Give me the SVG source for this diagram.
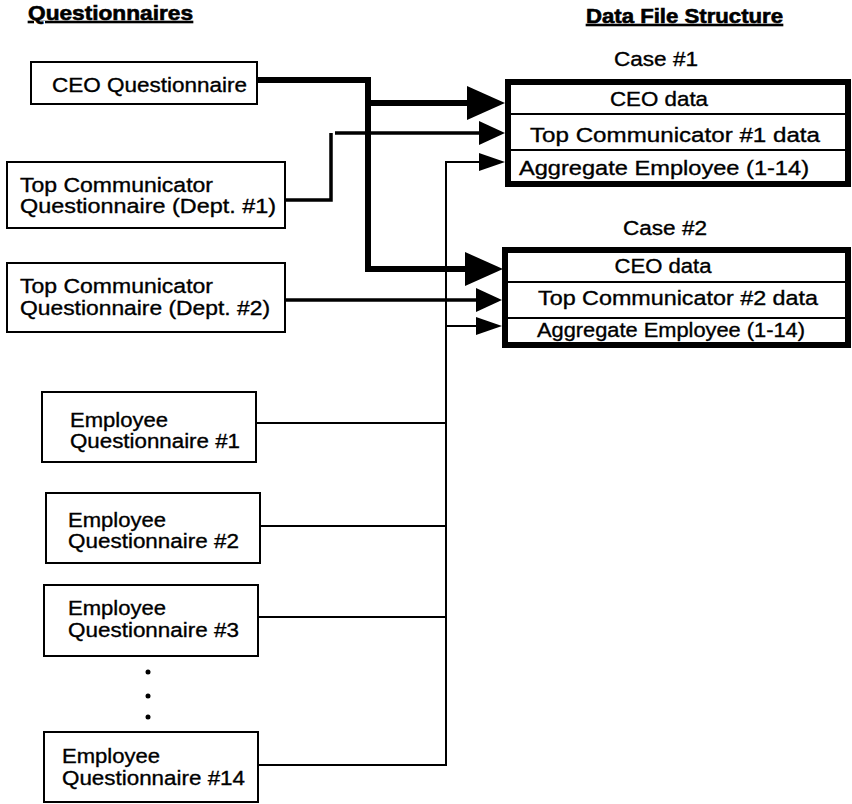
<svg xmlns="http://www.w3.org/2000/svg" width="852" height="804" viewBox="0 0 852 804">
  <style>
    text { font-family: "Liberation Sans", Arial, Helvetica, sans-serif; font-size: 20.5px; fill: #000; stroke: #000; stroke-width: 0.35px; }
    .hdr { font-weight: bold; font-size: 20px; text-decoration: underline; stroke-width: 0.6px; }
    .ctr { text-anchor: middle; }
    .box { fill: #fff; stroke: #000; stroke-width: 2; }
    .case { fill: #fff; stroke: #000; stroke-width: 6; }
    .sep { stroke: #000; stroke-width: 2; }
    .thick { fill: none; stroke: #000; stroke-width: 6; }
    .mid { fill: none; stroke: #000; stroke-width: 3.5; }
    .thin { fill: none; stroke: #000; stroke-width: 2; }
  </style>
  <defs>
    <marker id="ah-big" markerUnits="userSpaceOnUse" markerWidth="40" markerHeight="36" refX="4" refY="17" orient="auto">
      <path d="M0,0 L38,17 L0,34 Z" fill="#000"/>
    </marker>
    <marker id="ah-mid" markerUnits="userSpaceOnUse" markerWidth="28" markerHeight="26" refX="3" refY="12" orient="auto">
      <path d="M0,0 L26,12 L0,24 Z" fill="#000"/>
    </marker>
    <marker id="ah-small" markerUnits="userSpaceOnUse" markerWidth="28" markerHeight="20" refX="3" refY="9" orient="auto">
      <path d="M0,0 L26,9 L0,18 Z" fill="#000"/>
    </marker>
  </defs>
  <rect width="852" height="804" fill="#fff"/>

  <!-- column headings -->
  <text class="hdr" x="28" y="20" textLength="165" lengthAdjust="spacingAndGlyphs">Questionnaires</text>
  <text class="hdr" x="586" y="23" textLength="197" lengthAdjust="spacingAndGlyphs">Data File Structure</text>

  <!-- connectors -->
  <g id="connectors">
    <!-- CEO questionnaire feeds both cases -->
    <polyline class="thick" points="257,80 368,80 368,269 469,269" marker-end="url(#ah-big)"/>
    <line class="thick" x1="368" y1="103" x2="471" y2="103" marker-end="url(#ah-big)"/>
    <!-- top communicator dept 1 -->
    <polyline class="mid" points="285,200 331,200 331,133"/>
    <line class="mid" x1="335" y1="133" x2="482" y2="133" marker-end="url(#ah-mid)"/>
    <!-- top communicator dept 2 -->
    <line class="mid" x1="285" y1="300" x2="479" y2="300" marker-end="url(#ah-mid)"/>
    <!-- employee bus -->
    <line class="thin" x1="446" y1="162" x2="446" y2="765"/>
    <line class="thin" x1="445" y1="162" x2="482" y2="162" marker-end="url(#ah-small)"/>
    <line class="thin" x1="445" y1="326" x2="479" y2="326" marker-end="url(#ah-small)"/>
    <line class="thin" x1="256" y1="423" x2="446" y2="423"/>
    <line class="thin" x1="260" y1="526" x2="446" y2="526"/>
    <line class="thin" x1="258" y1="617" x2="446" y2="617"/>
    <line class="thin" x1="258" y1="765" x2="447" y2="765"/>
  </g>

  <!-- questionnaires -->
  <g id="ceo-q">
    <rect class="box" x="31" y="62" width="226" height="42"/>
    <text x="52" y="92" textLength="195" lengthAdjust="spacingAndGlyphs">CEO Questionnaire</text>
  </g>
  <g id="tc1-q">
    <rect class="box" x="7" y="162" width="278" height="66"/>
    <text x="20" y="192" textLength="193" lengthAdjust="spacingAndGlyphs">Top Communicator</text>
    <text x="20" y="213" textLength="256" lengthAdjust="spacingAndGlyphs">Questionnaire (Dept. #1)</text>
  </g>
  <g id="tc2-q">
    <rect class="box" x="7" y="263" width="278" height="69"/>
    <text x="20" y="293" textLength="193" lengthAdjust="spacingAndGlyphs">Top Communicator</text>
    <text x="20" y="315" textLength="250" lengthAdjust="spacingAndGlyphs">Questionnaire (Dept. #2)</text>
  </g>
  <g id="emp1-q">
    <rect class="box" x="42" y="392" width="214" height="70"/>
    <text x="70" y="427" textLength="98" lengthAdjust="spacingAndGlyphs">Employee</text>
    <text x="70" y="448" textLength="170" lengthAdjust="spacingAndGlyphs">Questionnaire #1</text>
  </g>
  <g id="emp2-q">
    <rect class="box" x="46" y="493" width="214" height="70"/>
    <text x="68" y="527" textLength="98" lengthAdjust="spacingAndGlyphs">Employee</text>
    <text x="68" y="548" textLength="171" lengthAdjust="spacingAndGlyphs">Questionnaire #2</text>
  </g>
  <g id="emp3-q">
    <rect class="box" x="44" y="585" width="214" height="71"/>
    <text x="68" y="615" textLength="98" lengthAdjust="spacingAndGlyphs">Employee</text>
    <text x="68" y="637" textLength="171" lengthAdjust="spacingAndGlyphs">Questionnaire #3</text>
  </g>
  <g id="ellipsis">
    <circle cx="148" cy="672" r="2.5"/>
    <circle cx="148" cy="696" r="2.5"/>
    <circle cx="148" cy="717" r="2.5"/>
  </g>
  <g id="emp14-q">
    <rect class="box" x="44" y="732" width="214" height="70"/>
    <text x="62" y="763" textLength="98" lengthAdjust="spacingAndGlyphs">Employee</text>
    <text x="62" y="785" textLength="183" lengthAdjust="spacingAndGlyphs">Questionnaire #14</text>
  </g>

  <!-- data file cases -->
  <g id="case1">
    <text class="ctr" x="656" y="66" textLength="84" lengthAdjust="spacingAndGlyphs">Case #1</text>
    <rect class="case" x="508" y="82" width="340" height="102"/>
    <line class="sep" x1="511" y1="114" x2="845" y2="114"/>
    <line class="sep" x1="511" y1="150" x2="845" y2="150"/>
    <text class="ctr" x="659" y="106" textLength="98" lengthAdjust="spacingAndGlyphs">CEO data</text>
    <text class="ctr" x="675" y="142" textLength="290" lengthAdjust="spacingAndGlyphs">Top Communicator #1 data</text>
    <text class="ctr" x="664" y="175" textLength="290" lengthAdjust="spacingAndGlyphs">Aggregate Employee (1-14)</text>
  </g>
  <g id="case2">
    <text class="ctr" x="665" y="235" textLength="84" lengthAdjust="spacingAndGlyphs">Case #2</text>
    <rect class="case" x="505" y="250" width="343" height="95"/>
    <line class="sep" x1="508" y1="282" x2="845" y2="282"/>
    <line class="sep" x1="508" y1="318" x2="845" y2="318"/>
    <text class="ctr" x="663" y="273" textLength="97" lengthAdjust="spacingAndGlyphs">CEO data</text>
    <text class="ctr" x="678" y="305" textLength="280" lengthAdjust="spacingAndGlyphs">Top Communicator #2 data</text>
    <text class="ctr" x="671" y="337" textLength="268" lengthAdjust="spacingAndGlyphs">Aggregate Employee (1-14)</text>
  </g>
</svg>
